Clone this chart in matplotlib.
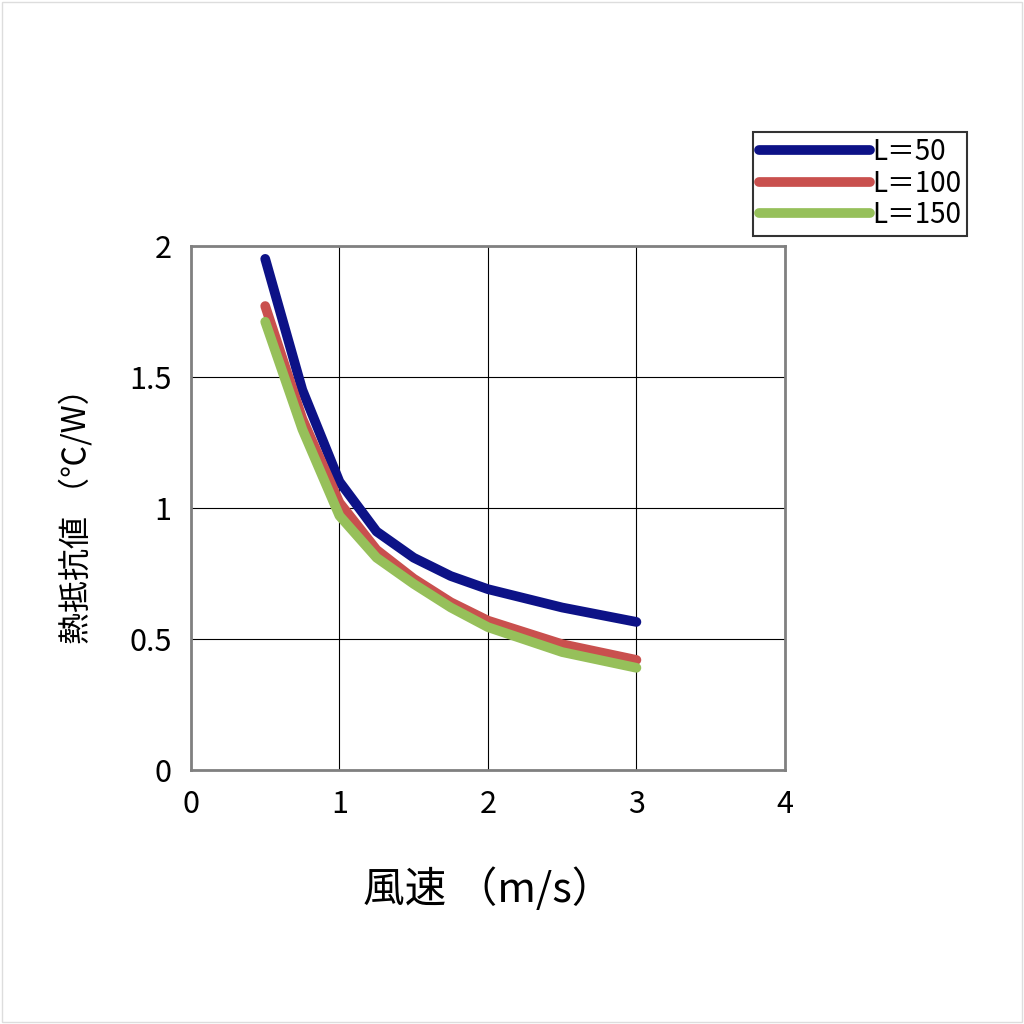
import matplotlib
matplotlib.use("Agg")
from matplotlib import pyplot as plt

plt.rcParams["font.family"] = ["Noto Sans CJK JP"]

wind = [0.5, 0.75, 1.0, 1.25, 1.5, 1.75, 2.0, 2.5, 3.0]
r_l50 = [1.95, 1.45, 1.10, 0.91, 0.81, 0.74, 0.69, 0.62, 0.565]
r_l100 = [1.77, 1.34, 1.02, 0.84, 0.73, 0.64, 0.57, 0.48, 0.42]
r_l150 = [1.71, 1.30, 0.97, 0.81, 0.71, 0.62, 0.545, 0.45, 0.39]
labels = ["L＝50", "L＝100", "L＝150"]
colors = ["#0d1287", "#c9504e", "#96c05a"]

fig = plt.figure(figsize=(10.24, 10.24), dpi=100)
fig.patches.append(plt.Rectangle((0.002, 0.002), 0.996, 0.996, transform=fig.transFigure,
                                 fill=False, edgecolor="#dddddd", linewidth=1))
ax = fig.add_axes([0.1865, 0.248, 0.58, 0.512])

for ys, lab, c in zip([r_l50, r_l100, r_l150], labels, colors):
    ax.plot(wind, ys, color=c, linewidth=7, solid_capstyle="round",
            solid_joinstyle="round", label=lab)

ax.set_xlim(0, 4)
ax.set_ylim(0, 2)
ax.set_xticks([0, 1, 2, 3, 4])
ax.set_yticks([0, 0.5, 1, 1.5, 2])
ax.set_yticklabels(["0", "0.5", "1", "1.5", "2"])
ax.grid(True, color="black", linewidth=0.8)
ax.tick_params(length=0, labelsize=22, pad=14)
for s in ax.spines.values():
    s.set_color("#808080")
    s.set_linewidth(2)

ax.set_xlabel("風速 （m/s）", fontsize=30, labelpad=34)
ax.set_ylabel("熱抵抗値 （℃/W）", fontsize=23, labelpad=26)

leg = fig.legend(loc="upper left", bbox_to_anchor=(0.722, 0.885), fontsize=20,
                 handlelength=4.0, frameon=True, fancybox=False, borderpad=0.2,
                 labelspacing=0.05, handletextpad=0.1)
leg.get_frame().set_edgecolor("black")
leg.get_frame().set_linewidth(1.5)

fig.savefig("out.png", dpi=100)
